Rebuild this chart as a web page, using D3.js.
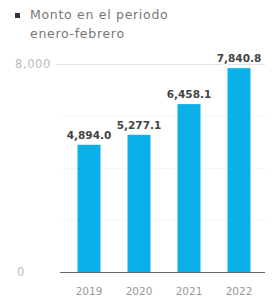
<!DOCTYPE html>
<html><head><meta charset="utf-8">
<script src="https://cdn.jsdelivr.net/npm/d3@7"></script>
<style>body{margin:0;background:#fff}svg{display:block}</style>
</head><body>
<svg id="c" width="277" height="299"></svg>
<script>
const categories = ["2019", "2020", "2021", "2022"];
const values = [4894.0, 5277.1, 6458.1, 7840.8];
const valueLabels = ["4,894.0", "5,277.1", "6,458.1", "7,840.8"];
const yTicks = [0, 8000];
const gridTicks = [2000, 4000, 6000];
const legendLines = ["Monto en el periodo", "enero-febrero"];

const svg = d3.select("#c");
const font = "DejaVu Sans, sans-serif";
const x = d3.scaleBand().domain(categories).range([64, 264]).paddingInner(0.54).paddingOuter(0.27);
const y = d3.scaleLinear().domain([0, 8000]).range([272, 64]);

// legend
svg.append("rect").attr("x", 15).attr("y", 13).attr("width", 5).attr("height", 5).attr("fill", "#333");
svg.append("g").selectAll("text").data(legendLines).join("text")
  .attr("x", 30).attr("y", (d,i) => 19 + i*19)
  .attr("font-family", font).attr("font-size", 12.5).attr("letter-spacing", 0.7).attr("fill", "#777")
  .text(d => d);

// grid
svg.append("g").selectAll("line").data(gridTicks).join("line")
  .attr("x1", 60).attr("x2", 265).attr("y1", d => y(d)+0.5).attr("y2", d => y(d)+0.5)
  .attr("stroke", "#eee").attr("stroke-dasharray", "2,2");
svg.append("line").attr("x1", 56).attr("x2", 265).attr("y1", y(8000)+0.5).attr("y2", y(8000)+0.5)
  .attr("stroke", "#e4e4e4");

// y labels
svg.append("g").selectAll("text").data(yTicks).join("text")
  .attr("x", d => d === 0 ? 17 : 15).attr("y", d => y(d) + 4)
  .attr("font-family", font).attr("font-size", 11.5).attr("letter-spacing", 0.6).attr("fill", "#bbb")
  .text(d => d3.format(",")(d));

// bars
svg.append("g").selectAll("rect").data(values).join("rect")
  .attr("x", (d,i) => x(categories[i])).attr("width", x.bandwidth())
  .attr("y", d => y(d)).attr("height", d => y(0) - y(d))
  .attr("fill", "#0cb0e8");

// baseline
svg.append("line").attr("x1", 60).attr("x2", 265).attr("y1", y(0)+0.5).attr("y2", y(0)+0.5).attr("stroke", "#666");

// value labels
svg.append("g").selectAll("text").data(values).join("text")
  .attr("x", (d,i) => x(categories[i]) + x.bandwidth()/2).attr("y", d => y(d) - 6)
  .attr("text-anchor", "middle").attr("font-family", font).attr("font-size", 10.5).attr("font-weight", "bold")
  .attr("fill", "#444").attr("stroke", "#fff").attr("stroke-width", 4).attr("paint-order", "stroke")
  .text((d,i) => valueLabels[i]);

// x labels
svg.append("g").selectAll("text").data(categories).join("text")
  .attr("x", d => x(d) + x.bandwidth()/2).attr("y", 295)
  .attr("text-anchor", "middle").attr("font-family", font).attr("font-size", 10.5).attr("fill", "#999")
  .text(d => d);
</script>
</body></html>
